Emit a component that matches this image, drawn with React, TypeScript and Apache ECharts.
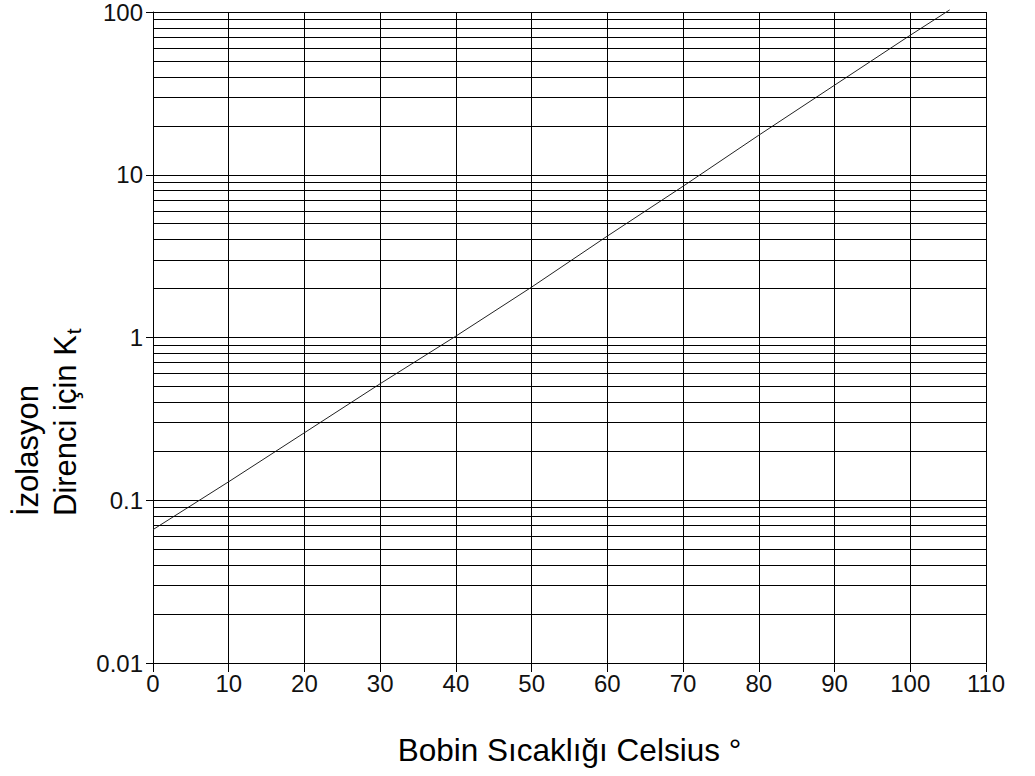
import React, { useEffect, useRef } from "react";
import * as echarts from "echarts";

// Temperature (°C) and Kt
const temps = [0, 10, 20, 30, 40, 50, 60, 70, 80, 90, 100, 105.2];
const ktValues = [0.066, 0.13, 0.26, 0.52, 1.02, 2.04, 4.2, 8.5, 17.5, 35.5, 72, 103];

// Minor horizontal grid lines (2..9 × each decade)
const minorMultipliers = [2, 3, 4, 5, 6, 7, 8, 9];
const decades = [0.01, 0.1, 1, 10];

const xTitle = "Bobin Sıcaklığı Celsius °";
const yTitleLine1 = "İzolasyon";
const yTitleLine2 = "Direnci için K";
const yTitleSub = "t";

const FONT = "'Liberation Sans', Arial, Helvetica, sans-serif";

export default function App() {
  const ref = useRef<HTMLDivElement>(null);

  useEffect(() => {
    if (!ref.current) return;
    const chart = echarts.init(ref.current, null, { renderer: "svg" });
    const minorVals: number[] = [];
    decades.forEach((d) => minorMultipliers.forEach((m) => minorVals.push(+(d * m).toPrecision(3))));

    chart.setOption({
      animation: false,
      backgroundColor: "#fff",
      grid: { left: 153, right: 49, top: 10, bottom: 113, containLabel: false },
      xAxis: {
        type: "value",
        min: 0,
        max: 110,
        interval: 10,
        name: xTitle,
        nameLocation: "middle",
        nameGap: 71,
        nameTextStyle: { fontFamily: FONT, fontSize: 31.5, color: "#000" },
        axisLine: { lineStyle: { color: "#000", width: 1 } },
        axisTick: { length: 9, lineStyle: { color: "#000", width: 1 } },
        axisLabel: { fontFamily: FONT, fontSize: 24, color: "#111", margin: 8 },
        splitLine: { show: true, lineStyle: { color: "#000", width: 1 } },
      },
      yAxis: {
        type: "log",
        logBase: 10,
        min: 0.01,
        max: 100,
        axisLine: { show: true, lineStyle: { color: "#000", width: 1 } },
        axisTick: { show: true, length: 7, lineStyle: { color: "#000", width: 1 } },
        axisLabel: {
          fontFamily: FONT,
          fontSize: 24,
          color: "#111",
          margin: 10,
          padding: [6, 0, 0, 0],
          formatter: (v: number) => String(+v.toPrecision(3)),
        },
        splitLine: { show: true, lineStyle: { color: "#000", width: 1 } },
      },
      series: [
        {
          type: "line",
          data: temps.map((t, i) => [t, ktValues[i]]),
          symbol: "none",
          clip: false,
          lineStyle: { color: "#222", width: 1 },
          markLine: {
            silent: true,
            symbol: ["none", "none"],
            label: { show: false },
            lineStyle: { color: "#000", width: 1, type: "solid" },
            data: minorVals.map((v) => ({ yAxis: v })),
          },
        },
      ],
      graphic: [
        {
          type: "text",
          x: 46,
          y: 516,
          rotation: Math.PI / 2,
          style: {
            text: yTitleLine1 + "\n" + yTitleLine2 + "{sub|" + yTitleSub + "}",
            fontFamily: FONT,
            fontSize: 31,
            lineHeight: 38,
            fill: "#000",
            align: "left",
            verticalAlign: "middle",
            rich: {
              sub: { fontFamily: FONT, fontSize: 21, lineHeight: 38, padding: [16, 0, 0, 1], fill: "#000" },
            },
          },
        },
      ],
    });
    return () => chart.dispose();
  }, []);

  return (
    <div
      ref={ref}
      style={{ position: "fixed", left: 0, top: 0, width: 1035, height: 776, background: "#fff" }}
    />
  );
}
